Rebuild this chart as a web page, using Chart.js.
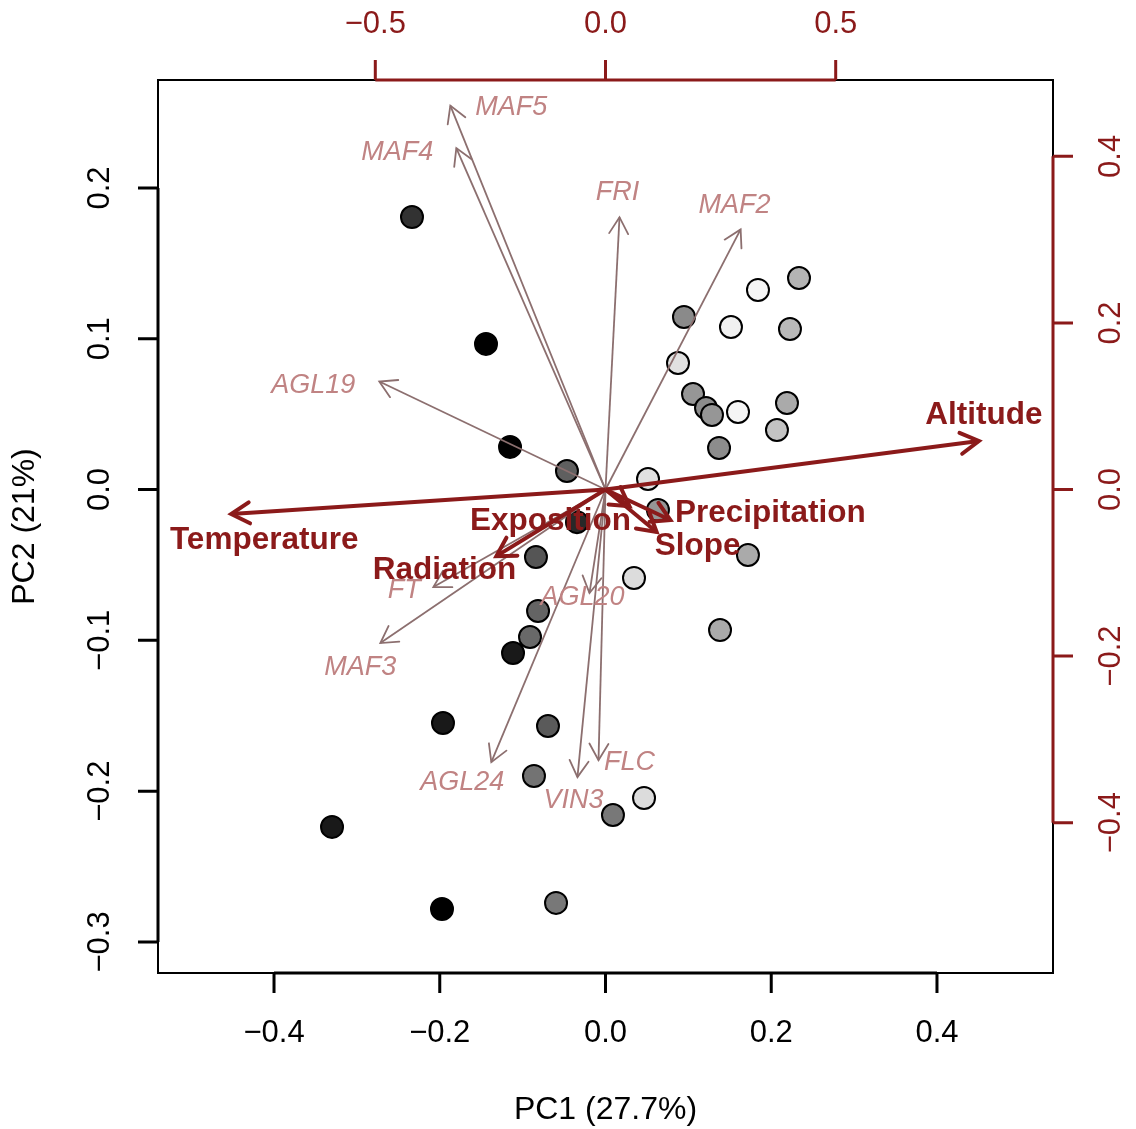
<!DOCTYPE html>
<html>
<head>
<title>PCA biplot</title>
<script src="https://cdn.jsdelivr.net/npm/chart.js"></script>
<style>
    html, body { margin: 0; padding: 0; background: #fff; overflow: hidden; }
    #wrap { width: 1136px; height: 1129px; position: relative; }
</style>
</head>
<body>
<div id="wrap"><canvas id="myChart"></canvas></div>
<script>
// sample scores (PC1, PC2) and their grey shade (0 = black, 255 = white)
const pc1 = [-0.2335, -0.1442, -0.1152, -0.0465, 0.0947, 0.1514, 0.1840, 0.2335, 0.2226, 0.0875,
             0.1056, 0.1213, 0.1285, 0.1599, 0.2190, 0.2069, 0.1370, 0.0513, 0.0633, -0.0344,
             -0.0839, 0.1719, 0.0344, -0.0814, -0.0911, -0.1116, 0.1382, -0.1961, -0.0694, -0.0863,
             0.0465, 0.0090, -0.3300, -0.1973, -0.0597];
const pc2 = [0.1807, 0.0966, 0.0283, 0.0123, 0.1145, 0.1078, 0.1324, 0.1403, 0.1065, 0.0839,
             0.0634, 0.0541, 0.0495, 0.0515, 0.0574, 0.0395, 0.0276, 0.0070, -0.0135, -0.0216,
             -0.0447, -0.0434, -0.0586, -0.0805, -0.0978, -0.1084, -0.0932, -0.1548, -0.1568, -0.1899,
             -0.2045, -0.2158, -0.2237, -0.2781, -0.2741];
const shade = [50, 0, 0, 95, 138, 240, 245, 180, 185, 225,
               150, 140, 150, 245, 170, 195, 140, 225, 150, 40,
               85, 170, 220, 100, 105, 25, 170, 25, 90, 115,
               220, 120, 25, 0, 120];

// environmental loadings (top / right axes)
const envNames = ['Altitude', 'Temperature', 'Radiation', 'Exposition', 'Precipitation', 'Slope'];
const envX = [0.811, -0.813, -0.237, 0.052, 0.141, 0.111];
const envY = [0.0583, -0.0294, -0.080, -0.020, -0.0366, -0.051];

// gene loadings (top / right axes)
const geneNames = ['MAF5', 'MAF4', 'FRI', 'MAF2', 'AGL19', 'FT', 'MAF3', 'AGL20', 'AGL24', 'VIN3', 'FLC'];
const geneX = [-0.337, -0.324, 0.0304, 0.2935, -0.4913, -0.3739, -0.489, -0.0348, -0.248, -0.0609, -0.0152];
const geneY = [0.461, 0.410, 0.327, 0.3123, 0.1297, -0.1171, -0.1844, -0.1243, -0.3273, -0.3453, -0.325];

// tick labels
const pc1Ticks = [-0.4, -0.2, 0.0, 0.2, 0.4];
const pc2Ticks = [-0.3, -0.2, -0.1, 0.0, 0.1, 0.2];
const loadXTicks = [-0.5, 0.0, 0.5];
const loadYTicks = [-0.4, -0.2, 0.0, 0.2, 0.4];

// label placement (pixel offset from arrow tip)
const envLabelOffset = [[5, -26], [33, 26], [-52, 14], [-79, 15], [100, -7], [41, 14]];
const geneLabelOffset = [[61, 2], [-59, 4], [-2, -25], [-6, -24], [-66, 4], [-29, 3],
                         [-20, 24], [-7, 4], [-29, 20], [-4, 23], [31, 2]];

const RED = '#8b1a1a';
const GREY_LINE = '#8c6f6f';
const GREY_TEXT = '#c08383';
const FONT = '"Liberation Sans", Arial, Helvetica, sans-serif';

const fmt = v => (v < 0 ? '\u2212' : '') + Math.abs(v).toFixed(1);

const datasets = [{
    label: 'samples',
    data: pc1.map((x, i) => ({ x: x, y: pc2[i] })),
    xAxisID: 'x', yAxisID: 'y',
    backgroundColor: shade.map(s => `rgb(${s},${s},${s})`),
    borderColor: '#000',
    borderWidth: 2,
    pointRadius: 11,
    order: 10
}];
geneNames.forEach((n, i) => datasets.push({
    type: 'line', label: n,
    data: [{ x: 0, y: 0 }, { x: geneX[i], y: geneY[i] }],
    xAxisID: 'x2', yAxisID: 'y2',
    borderColor: GREY_LINE, borderWidth: 1.8, pointRadius: 0, fill: false,
    order: 5
}));
envNames.forEach((n, i) => datasets.push({
    type: 'line', label: n,
    data: [{ x: 0, y: 0 }, { x: envX[i], y: envY[i] }],
    xAxisID: 'x2', yAxisID: 'y2',
    borderColor: RED, borderWidth: 4, pointRadius: 0, fill: false,
    order: 1
}));

function arrowHead(ctx, x0, y0, x1, y1, len, color, lw) {
    const a = Math.atan2(y1 - y0, x1 - x0);
    ctx.save();
    ctx.strokeStyle = color;
    ctx.lineWidth = lw;
    ctx.lineCap = 'round';
    ctx.beginPath();
    ctx.moveTo(x1 - len * Math.cos(a - Math.PI / 6), y1 - len * Math.sin(a - Math.PI / 6));
    ctx.lineTo(x1, y1);
    ctx.lineTo(x1 - len * Math.cos(a + Math.PI / 6), y1 - len * Math.sin(a + Math.PI / 6));
    ctx.stroke();
    ctx.restore();
}

const biplotPlugin = {
    id: 'biplot',
    afterDatasetsDraw(chart) {
        const ctx = chart.ctx;
        const sx = chart.scales.x2, sy = chart.scales.y2;
        const ox = sx.getPixelForValue(0), oy = sy.getPixelForValue(0);
        ctx.save();
        ctx.textAlign = 'center';
        ctx.textBaseline = 'middle';
        // gene arrows
        geneNames.forEach((n, i) => {
            const tx = sx.getPixelForValue(geneX[i]), ty = sy.getPixelForValue(geneY[i]);
            arrowHead(ctx, ox, oy, tx, ty, 19, GREY_LINE, 1.8);
        });
        ctx.font = 'italic 27px ' + FONT;
        ctx.fillStyle = GREY_TEXT;
        geneNames.forEach((n, i) => {
            const tx = sx.getPixelForValue(geneX[i]), ty = sy.getPixelForValue(geneY[i]);
            ctx.fillText(n, tx + geneLabelOffset[i][0], ty + geneLabelOffset[i][1]);
        });
        // environmental arrows
        envNames.forEach((n, i) => {
            const tx = sx.getPixelForValue(envX[i]), ty = sy.getPixelForValue(envY[i]);
            arrowHead(ctx, ox, oy, tx, ty, 21, RED, 4);
        });
        ctx.font = 'bold 31.5px ' + FONT;
        ctx.fillStyle = RED;
        envNames.forEach((n, i) => {
            const tx = sx.getPixelForValue(envX[i]), ty = sy.getPixelForValue(envY[i]);
            ctx.fillText(n, tx + envLabelOffset[i][0], ty + envLabelOffset[i][1]);
        });
        ctx.restore();
    },
    afterDraw(chart) {
        const ctx = chart.ctx;
        const a = chart.chartArea;
        const { x, y, x2, y2 } = chart.scales;
        const tl = 20;
        ctx.save();
        // box
        ctx.strokeStyle = '#000';
        ctx.lineWidth = 2;
        ctx.strokeRect(a.left, a.top, a.right - a.left, a.bottom - a.top);
        ctx.lineCap = 'butt';
        ctx.font = '31px ' + FONT;
        ctx.textAlign = 'center';
        ctx.textBaseline = 'middle';

        // bottom axis
        ctx.strokeStyle = '#000'; ctx.fillStyle = '#000'; ctx.lineWidth = 3;
        ctx.beginPath();
        ctx.moveTo(x.getPixelForValue(pc1Ticks[0]), a.bottom);
        ctx.lineTo(x.getPixelForValue(pc1Ticks[pc1Ticks.length - 1]), a.bottom);
        pc1Ticks.forEach(v => { const p = x.getPixelForValue(v); ctx.moveTo(p, a.bottom); ctx.lineTo(p, a.bottom + tl); });
        ctx.stroke();
        pc1Ticks.forEach(v => ctx.fillText(fmt(v), x.getPixelForValue(v), a.bottom + 60));

        // left axis
        ctx.beginPath();
        ctx.moveTo(a.left, y.getPixelForValue(pc2Ticks[0]));
        ctx.lineTo(a.left, y.getPixelForValue(pc2Ticks[pc2Ticks.length - 1]));
        pc2Ticks.forEach(v => { const p = y.getPixelForValue(v); ctx.moveTo(a.left, p); ctx.lineTo(a.left - tl, p); });
        ctx.stroke();
        pc2Ticks.forEach(v => {
            ctx.save();
            ctx.translate(a.left - 58, y.getPixelForValue(v));
            ctx.rotate(-Math.PI / 2);
            ctx.fillText(fmt(v), 0, 0);
            ctx.restore();
        });

        // top axis
        ctx.strokeStyle = RED; ctx.fillStyle = RED;
        ctx.beginPath();
        ctx.moveTo(x2.getPixelForValue(loadXTicks[0]), a.top);
        ctx.lineTo(x2.getPixelForValue(loadXTicks[loadXTicks.length - 1]), a.top);
        loadXTicks.forEach(v => { const p = x2.getPixelForValue(v); ctx.moveTo(p, a.top); ctx.lineTo(p, a.top - tl); });
        ctx.stroke();
        loadXTicks.forEach(v => ctx.fillText(fmt(v), x2.getPixelForValue(v), a.top - 56));

        // right axis
        ctx.beginPath();
        ctx.moveTo(a.right, y2.getPixelForValue(loadYTicks[0]));
        ctx.lineTo(a.right, y2.getPixelForValue(loadYTicks[loadYTicks.length - 1]));
        loadYTicks.forEach(v => { const p = y2.getPixelForValue(v); ctx.moveTo(a.right, p); ctx.lineTo(a.right + tl, p); });
        ctx.stroke();
        loadYTicks.forEach(v => {
            ctx.save();
            ctx.translate(a.right + 58, y2.getPixelForValue(v));
            ctx.rotate(-Math.PI / 2);
            ctx.fillText(fmt(v), 0, 0);
            ctx.restore();
        });

        // axis titles
        ctx.font = '32px ' + FONT;
        ctx.fillStyle = '#000';
        ctx.fillText('PC1 (27.7%)', (a.left + a.right) / 2, a.bottom + 137);
        ctx.save();
        ctx.translate(a.left - 133, (a.top + a.bottom) / 2);
        ctx.rotate(-Math.PI / 2);
        ctx.fillText('PC2 (21%)', 0, 0);
        ctx.restore();
        ctx.restore();
    }
};

const ctx = document.getElementById('myChart').getContext('2d');
const myChart = new Chart(ctx, {
    type: 'scatter',
    data: { datasets: datasets },
    options: {
        responsive: true,
        maintainAspectRatio: false,
        animation: false,
        layout: { padding: { left: 158, top: 80, right: 83, bottom: 156 } },
        plugins: { legend: { display: false }, tooltip: { enabled: false } },
        events: [],
        scales: {
            x: { type: 'linear', position: 'bottom', min: -0.54, max: 0.54, display: false },
            y: { type: 'linear', position: 'left', min: -0.3206, max: 0.2716, display: false },
            x2: { type: 'linear', position: 'top', min: -0.972, max: 0.972, display: false },
            y2: { type: 'linear', position: 'right', min: -0.5805, max: 0.4917, display: false }
        }
    },
    plugins: [biplotPlugin]
});
</script>
</body>
</html>
